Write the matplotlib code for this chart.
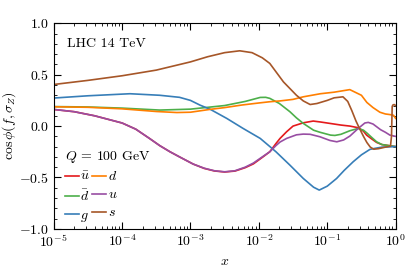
"""cos phi(f, sigma_Z) correlation curves vs x for LHC 14 TeV, Q = 100 GeV."""
import matplotlib
matplotlib.use("Agg")
import matplotlib.pyplot as plt
import numpy as np
from matplotlib.ticker import MultipleLocator, LogLocator, NullFormatter

plt.rcParams["font.family"] = "serif"
plt.rcParams["font.serif"] = ["cmr10"]
plt.rcParams["mathtext.fontset"] = "cm"
plt.rcParams["axes.formatter.use_mathtext"] = True
plt.rcParams["font.size"] = 10

# ── data: log10(x) and cos(phi) ─────────────────────────────────────────────
lx_s = [-5, -4.5, -4, -3.5, -3, -2.75, -2.5, -2.28, -2.1, -1.95, -1.84, -1.64,
        -1.45, -1.35, -1.25, -1.15, -1.0, -0.9, -0.77, -0.70, -0.64, -0.58,
        -0.53, -0.47, -0.42, -0.37, -0.32, -0.25, -0.15, -0.075, -0.06, -0.05,
        -0.04, -0.02, 0]
y_s = [0.405, 0.445, 0.49, 0.545, 0.625, 0.675, 0.715, 0.733, 0.715, 0.665,
       0.61, 0.43, 0.30, 0.245, 0.21, 0.22, 0.25, 0.275, 0.285, 0.24, 0.15,
       0.05, -0.02, -0.10, -0.16, -0.205, -0.225, -0.22, -0.205, -0.195, -0.1,
       0.19, 0.205, 0.21, 0.2]

lx_d = [-5, -4.5, -4, -3.5, -3.2, -3.0, -2.71, -2.5, -2.25, -2.0, -1.84, -1.69,
        -1.5, -1.35, -1.1, -0.9, -0.67, -0.5, -0.42, -0.33, -0.23, -0.15,
        -0.083, -0.03, 0]
y_d = [0.188, 0.183, 0.168, 0.142, 0.132, 0.135, 0.163, 0.18, 0.205, 0.225,
       0.237, 0.245, 0.26, 0.285, 0.315, 0.33, 0.355, 0.30, 0.23, 0.18, 0.135,
       0.118, 0.112, 0.105, 0.075]

lx_dbar = [-5, -4.5, -4, -3.45, -3.0, -2.5, -2.2, -1.98, -1.9, -1.84, -1.7,
           -1.546, -1.45, -1.35, -1.2, -1.107, -0.95, -0.888, -0.8, -0.668,
           -0.547, -0.47, -0.424, -0.35, -0.278, -0.2, -0.1, 0]
y_dbar = [0.19, 0.186, 0.175, 0.156, 0.165, 0.2, 0.24, 0.279, 0.28, 0.27, 0.22,
          0.14, 0.08, 0.026, -0.04, -0.06, -0.088, -0.091, -0.08, -0.045,
          -0.023, -0.04, -0.065, -0.11, -0.153, -0.18, -0.19, -0.2]

lx_ubar = [-5, -4.7, -4.4, -4.2, -4.0, -3.8, -3.6, -3.45, -3.3, -3.16, -2.96,
           -2.8, -2.65, -2.5, -2.35, -2.2, -2.08, -1.95, -1.84, -1.75, -1.69,
           -1.594, -1.5, -1.35, -1.205, -1.1, -0.96, -0.8, -0.668, -0.547,
           -0.47, -0.424, -0.35, -0.278, -0.2, -0.1, 0]
y_ubar = [0.162, 0.14, 0.1, 0.065, 0.03, -0.03, -0.12, -0.19, -0.25, -0.3,
          -0.37, -0.412, -0.437, -0.447, -0.438, -0.405, -0.368, -0.305, -0.25,
          -0.17, -0.12, -0.055, 0.0, 0.032, 0.049, 0.04, 0.026, 0.01, 0.0,
          -0.016, -0.05, -0.088, -0.125, -0.159, -0.18, -0.19, -0.2]

lx_u = [-5, -4.7, -4.4, -4.2, -4.0, -3.8, -3.6, -3.45, -3.3, -3.16, -2.96,
        -2.8, -2.65, -2.5, -2.35, -2.2, -2.08, -1.95, -1.84, -1.75, -1.69,
        -1.594, -1.45, -1.35, -1.25, -1.107, -0.96, -0.86, -0.76, -0.668,
        -0.547, -0.45, -0.4, -0.33, -0.22, -0.15, -0.083, 0]
y_u = [0.162, 0.14, 0.1, 0.065, 0.03, -0.03, -0.12, -0.19, -0.25, -0.3, -0.37,
       -0.41, -0.435, -0.445, -0.435, -0.4, -0.36, -0.3, -0.25, -0.19, -0.155,
       -0.12, -0.085, -0.078, -0.08, -0.104, -0.14, -0.153, -0.135, -0.097,
       -0.023, 0.03, 0.036, 0.02, -0.035, -0.06, -0.088, -0.1]

lx_g = [-5, -4.5, -3.885, -3.45, -3.16, -3.0, -2.86, -2.71, -2.47, -2.23,
        -1.98, -1.838, -1.75, -1.546, -1.35, -1.2, -1.117, -1.0, -0.863, -0.75,
        -0.62, -0.5, -0.376, -0.303, -0.2, 0]
y_g = [0.273, 0.295, 0.315, 0.30, 0.28, 0.25, 0.204, 0.163, 0.075, -0.023,
       -0.12, -0.2, -0.25, -0.38, -0.51, -0.595, -0.623, -0.585, -0.51, -0.43,
       -0.347, -0.28, -0.227, -0.217, -0.205, -0.2]

series = [
    (r"$\bar{u}$", lx_ubar, y_ubar, "#e41a1c"),
    (r"$\bar{d}$", lx_dbar, y_dbar, "#4daf4a"),
    (r"$g$", lx_g, y_g, "#377eb8"),
    (r"$d$", lx_d, y_d, "#ff7f00"),
    (r"$u$", lx_u, y_u, "#984ea3"),
    (r"$s$", lx_s, y_s, "#a65628"),
]

# ── plot ────────────────────────────────────────────────────────────────────
fig = plt.figure(figsize=(4.07, 2.75), dpi=100)
ax = fig.add_axes([0.132, 0.168, 0.840, 0.747])

for label, lx, y, c in series:
    ax.plot(10.0 ** np.array(lx), y, color=c, lw=1.2, label=label)

ax.set_xscale("log")
ax.set_xlim(1e-5, 1)
ax.set_ylim(-1, 1)
ax.yaxis.set_major_locator(MultipleLocator(0.5))
ax.yaxis.set_minor_locator(MultipleLocator(0.1))
ax.xaxis.set_major_locator(LogLocator(base=10, numticks=10))
ax.xaxis.set_minor_locator(LogLocator(base=10, subs=np.arange(2, 10), numticks=20))
ax.xaxis.set_minor_formatter(NullFormatter())
ax.tick_params(which="both", direction="in", top=True, right=True)
ax.tick_params(which="major", length=5, width=0.8)
ax.tick_params(which="minor", length=2.5, width=0.6)

ax.set_xlabel(r"$x$")
ax.set_ylabel(r"$\cos\phi(f,\sigma_Z)$")
ax.yaxis.set_label_coords(-0.105, 0.5)
ax.text(0.04, 0.93, "LHC 14 TeV", transform=ax.transAxes, ha="left", va="top")

leg = ax.legend(ncol=2, loc="lower left", bbox_to_anchor=(0.0, -0.03),
                frameon=False, title=r"$Q$ = 100 GeV", alignment="left",
                handlelength=1.0, handletextpad=0.12, columnspacing=0.15,
                labelspacing=0.38, borderpad=0.3)

fig.savefig("out.png", dpi=100)
